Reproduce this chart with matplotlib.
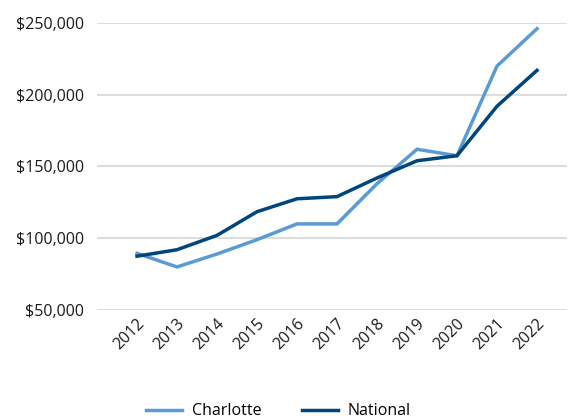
import matplotlib.pyplot as plt
from matplotlib.ticker import FuncFormatter

years = [2012, 2013, 2014, 2015, 2016, 2017, 2018, 2019, 2020, 2021, 2022]
charlotte = [89500, 80000, 89000, 99000, 110000, 110000, 138000, 162000, 157500, 220000, 246000]
national = [87500, 92000, 102000, 118500, 127500, 129000, 142000, 154000, 157500, 192000, 217000]

plt.rcParams['font.family'] = ['Open Sans', 'DejaVu Sans']

fig = plt.figure(figsize=(5.68, 4.19), dpi=100)
ax = fig.add_axes([97 / 568, 1 - 310 / 419, (567 - 97) / 568, (310 - 23) / 419])

ax.plot(years, charlotte, color='#5B9BD5', lw=2.5, label='Charlotte', solid_joinstyle='miter')
ax.plot(years, national, color='#00457C', lw=2.5, label='National', solid_joinstyle='miter')

ax.set_ylim(50000, 250000)
ax.set_yticks([50000, 100000, 150000, 200000, 250000])
ax.yaxis.set_major_formatter(FuncFormatter(lambda v, p: '${:,.0f}'.format(v)))
ax.set_xlim(2011, 2011 + (567 - 97) / 40)
ax.set_xticks(years)
ax.set_xticklabels([str(y) for y in years], rotation=45, ha='right', va='top',
                   rotation_mode='anchor')

ax.grid(axis='y', color='#D9D9D9', lw=1.3)
ax.set_axisbelow(True)
for s in ax.spines.values():
    s.set_visible(False)
ax.tick_params(length=0, labelsize=11.5, colors='#1a1a1a')
ax.tick_params(axis='y', pad=9)
ax.tick_params(axis='x', pad=4)

fig.legend(loc='lower center', bbox_to_anchor=(0.49, -0.035), ncol=2, frameon=False,
           fontsize=11.5, handlelength=2.3, handletextpad=0.6, columnspacing=2.5)

fig.savefig('out.png', dpi=100)
